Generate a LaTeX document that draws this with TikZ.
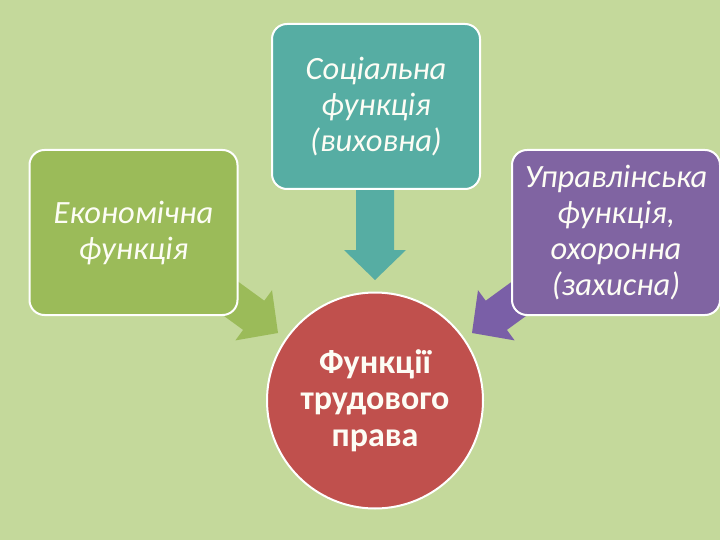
\documentclass[tikz,border=0pt]{standalone}
\usepackage{fontspec}
\setmainfont{Carlito}
\usetikzlibrary{calc}
\definecolor{bg}{HTML}{C4D99B}
\definecolor{cteal}{HTML}{56ADA3}
\definecolor{cgreen}{HTML}{9BBB59}
\definecolor{cpurple}{HTML}{8064A2}
\definecolor{cred}{HTML}{C0504D}
\definecolor{txt}{HTML}{FDFDF5}
\tikzset{
  fbox/.style={draw=white, line width=2pt, rounded corners=15pt, minimum width=208pt, minimum height=165pt, text=txt, align=center, font=\fontsize{32.5}{36}\selectfont\itshape, inner sep=0pt},
  hub/.style={circle, draw=white, line width=2pt, fill=cred, minimum size=216pt, text=txt, align=center, font=\fontsize{34}{36.5}\selectfont\bfseries, inner sep=0pt},
}
\begin{document}
\begin{tikzpicture}[x=1pt,y=-1pt]
\fill[bg] (0,0) rectangle (720,540);
\useasboundingbox (0,0) rectangle (720,540);
% block arrows (behind the boxes)
\coordinate (ttip) at (375,280);
\coordinate (gtip) at (278,333);
\coordinate (ptip) at (472,333);
\fill[cteal] (ttip) -- (406,250) -- (394,250) -- (394,185) -- (356,185) -- (356,250) -- (344,250) -- cycle;
\fill[cgreen] (gtip) -- (272,290.2) -- (264.3,300.7) -- (207.6,259.4) -- (186.4,288.6) -- (243.1,329.9) -- (235.4,340.4) -- cycle;
\fill[cpurple!95!blue] (ptip) -- (478,290.2) -- (485.7,300.7) -- (542.4,259.4) -- (563.6,288.6) -- (506.9,329.9) -- (514.6,340.4) -- cycle;
% boxes
\node[fbox, fill=cteal] (soc) at (376,106.5) {Соціальна\\функція\\(виховна)};
\node[fbox, fill=cgreen] (eco) at (133.5,232.5) {Економічна\\функція};
\node[fbox, fill=cpurple] (man) at (616,232.5) {Управлінська\\функція,\\охоронна\\(захисна)};
\node[hub] (fn) at (375,400.5) {Функції\\трудового\\права};
\end{tikzpicture}
\end{document}
